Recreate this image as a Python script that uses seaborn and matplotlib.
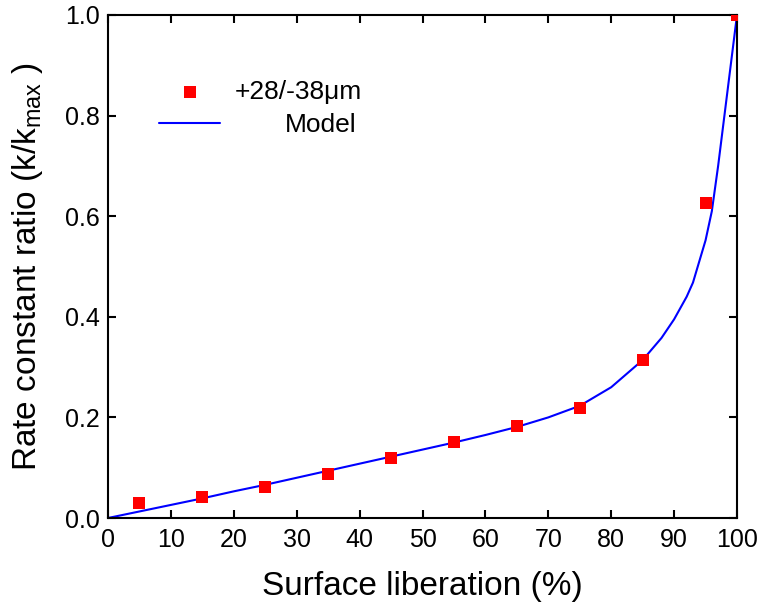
import matplotlib
matplotlib.use("Agg")
import matplotlib.pyplot as plt
import seaborn as sns
import pandas as pd

# Data
exp_x = [5, 15, 25, 35, 45, 55, 65, 75, 85, 95, 100]
exp_y = [0.029, 0.042, 0.061, 0.087, 0.119, 0.151, 0.182, 0.218, 0.315, 0.626, 1.0]

model_x = [0, 5, 10, 15, 20, 25, 30, 35, 40, 45, 50, 55, 60, 65, 70, 75, 80, 85,
           88, 90, 92, 93, 94, 95, 96, 97, 98, 99, 100]
model_y = [0.0, 0.013, 0.026, 0.039, 0.053, 0.066, 0.080, 0.094, 0.108, 0.122,
           0.136, 0.150, 0.165, 0.181, 0.200, 0.223, 0.260, 0.314, 0.358, 0.395,
           0.440, 0.468, 0.510, 0.552, 0.610, 0.700, 0.800, 0.900, 1.0]

exp_label = "+28/-38\u03bcm"
model_label = "Model"

sns.set_style("ticks")
plt.rcParams['font.family'] = ['Liberation Sans', 'DejaVu Sans']
plt.rcParams['mathtext.fontset'] = 'custom'
plt.rcParams['mathtext.rm'] = 'Liberation Sans'
plt.rcParams['mathtext.it'] = 'Liberation Sans:italic'
plt.rcParams['text.color'] = 'black'
plt.rcParams['axes.labelcolor'] = 'black'
plt.rcParams['xtick.color'] = 'black'
plt.rcParams['ytick.color'] = 'black'

fig = plt.figure(figsize=(7.6, 6.09), dpi=100)
ax = fig.add_axes([108/760, 1 - 518/609, (737-108)/760, (518-15)/609])

df_exp = pd.DataFrame({"x": exp_x, "y": exp_y})
df_mod = pd.DataFrame({"x": model_x, "y": model_y})

sns.scatterplot(data=df_exp, x="x", y="y", ax=ax, marker="s", s=65,
                color="#ff0000", linewidth=0, label=exp_label, zorder=3)
sns.lineplot(data=df_mod, x="x", y="y", ax=ax, color="#0000ff", linewidth=1.5,
             label=model_label, zorder=2)

ax.set_xlim(0, 100)
ax.set_ylim(0, 1.0)
ax.set_xticks(range(0, 101, 10))
ax.set_yticks([0.0, 0.2, 0.4, 0.6, 0.8, 1.0])
ax.set_yticklabels(["0.0", "0.2", "0.4", "0.6", "0.8", "1.0"])

for s in ax.spines.values():
    s.set_visible(True)
    s.set_linewidth(1.5)
    s.set_color("black")

ax.tick_params(direction="in", length=6, width=1.5, labelsize=18,
               top=True, right=True, colors="black", pad=6)
ax.tick_params(axis="x", pad=7)

ax.set_xlabel("Surface liberation (%)", fontsize=24, labelpad=14)
ax.set_ylabel(r"Rate constant ratio (k/k$_{\mathrm{max}}$ )", fontsize=24, labelpad=14)

leg = ax.legend(loc="upper left", bbox_to_anchor=(0.065, 0.892), frameon=False,
                fontsize=19, handlelength=2.3, handletextpad=0.55, labelspacing=0.35,
                borderaxespad=0)

fig.canvas.draw()
renderer = fig.canvas.get_renderer()
texts = leg.get_texts()
widths = [t.get_window_extent(renderer).width for t in texts]
w = max(widths)
for t, wi in zip(texts, widths):
    t.set_position((w - wi - (5 if wi < w else 0), 0))

fig.savefig("out.png", dpi=100)
